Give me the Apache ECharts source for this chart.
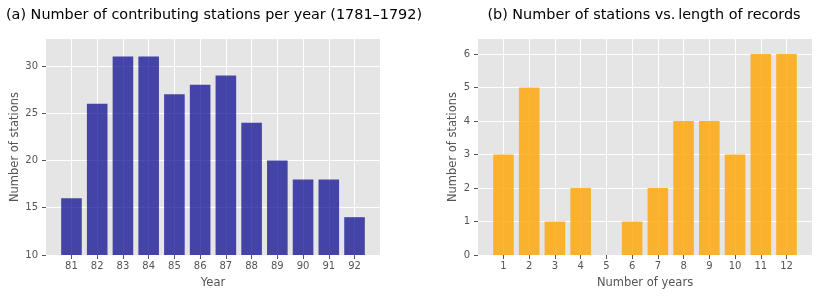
<!DOCTYPE html>
<html>
<head>
<meta charset="utf-8">
<script src="https://cdn.jsdelivr.net/npm/echarts@6/dist/echarts.min.js"></script>
<style>html,body{margin:0;padding:0;background:#fff}#c{width:819px;height:296px}</style>
</head>
<body>
<div id="c"></div>
<script>
const years = [81, 82, 83, 84, 85, 86, 87, 88, 89, 90, 91, 92];
const stationsPerYear = [16, 26, 31, 31, 27, 28, 29, 24, 20, 18, 18, 14];
const recordLengths = [1, 2, 3, 4, 5, 6, 7, 8, 9, 10, 11, 12];
const stationsPerLength = [3, 5, 1, 2, 0, 1, 2, 4, 4, 3, 6, 6];
const leftYTicks = [10, 15, 20, 25, 30];
const rightYTicks = [0, 1, 2, 3, 4, 5, 6];

const FONT = 'DejaVu Sans';
const grey = '#555555';

function xAxisCfg(idx, name, ticks, min, max) {
  return {
    type: 'value', gridIndex: idx, min: min, max: max,
    name: name, nameLocation: 'middle', nameGap: 22,
    nameTextStyle: {fontFamily: FONT, fontSize: 11.5, color: grey},
    axisLine: {show: false},
    axisTick: {show: true, length: 4, lineStyle: {color: grey}, customValues: ticks},
    axisLabel: {fontFamily: FONT, fontSize: 10, color: grey, margin: 6, customValues: ticks},
    splitLine: {show: true, lineStyle: {color: '#ffffff', width: 1}}
  };
}
function yAxisCfg(idx, name, ticks, min, max, gap) {
  return {
    type: 'value', gridIndex: idx, min: min, max: max,
    name: name, nameLocation: 'middle', nameGap: gap, nameRotate: 90,
    nameTextStyle: {fontFamily: FONT, fontSize: 11.5, color: grey},
    axisLine: {show: false},
    axisTick: {show: true, length: 4, lineStyle: {color: grey}, customValues: ticks},
    axisLabel: {fontFamily: FONT, fontSize: 10, color: grey, margin: 8, customValues: ticks},
    splitLine: {show: true, lineStyle: {color: '#ffffff', width: 1}}
  };
}

const chart = echarts.init(document.getElementById('c'), null, {renderer: 'canvas'});
chart.setOption({
  animation: false,
  backgroundColor: '#ffffff',
  title: [
    {text: '(a) Number of contributing stations per year (1781\u20131792)', left: 209, top: 3, textAlign: 'center',
     textStyle: {fontFamily: FONT, fontSize: 14.4, fontWeight: 'normal', color: '#000'}},
    {text: '(b) Number of stations vs.\u2009length of records', left: 639, top: 3, textAlign: 'center',
     textStyle: {fontFamily: FONT, fontSize: 14.4, fontWeight: 'normal', color: '#000'}}
  ],
  grid: [
    {left: 46, right: 439, top: 39, bottom: 41, show: true, backgroundColor: '#E5E5E5', borderWidth: 0,
     containLabel: false, outerBoundsMode: 'none'},
    {left: 478, right: 7, top: 39, bottom: 41, show: true, backgroundColor: '#E5E5E5', borderWidth: 0,
     containLabel: false, outerBoundsMode: 'none'}
  ],
  xAxis: [
    xAxisCfg(0, 'Year', years, 80.01, 92.99),
    xAxisCfg(1, 'Number of years', recordLengths, 0.01, 12.99)
  ],
  yAxis: [
    yAxisCfg(0, 'Number of stations', leftYTicks, 10, 32.85, 25),
    yAxisCfg(1, 'Number of stations', rightYTicks, 0, 6.45, 19.3)
  ],
  series: [
    {type: 'bar', xAxisIndex: 0, yAxisIndex: 0, barWidth: 20.6, clip: true,
     itemStyle: {color: '#00008B', opacity: 0.7},
     data: years.map((y, i) => [y, stationsPerYear[i]])},
    {type: 'bar', xAxisIndex: 1, yAxisIndex: 1, barWidth: 20.6, clip: true,
     itemStyle: {color: '#FFA500', opacity: 0.8},
     data: recordLengths.map((x, i) => [x, stationsPerLength[i]])}
  ]
});
</script>
</body>
</html>
